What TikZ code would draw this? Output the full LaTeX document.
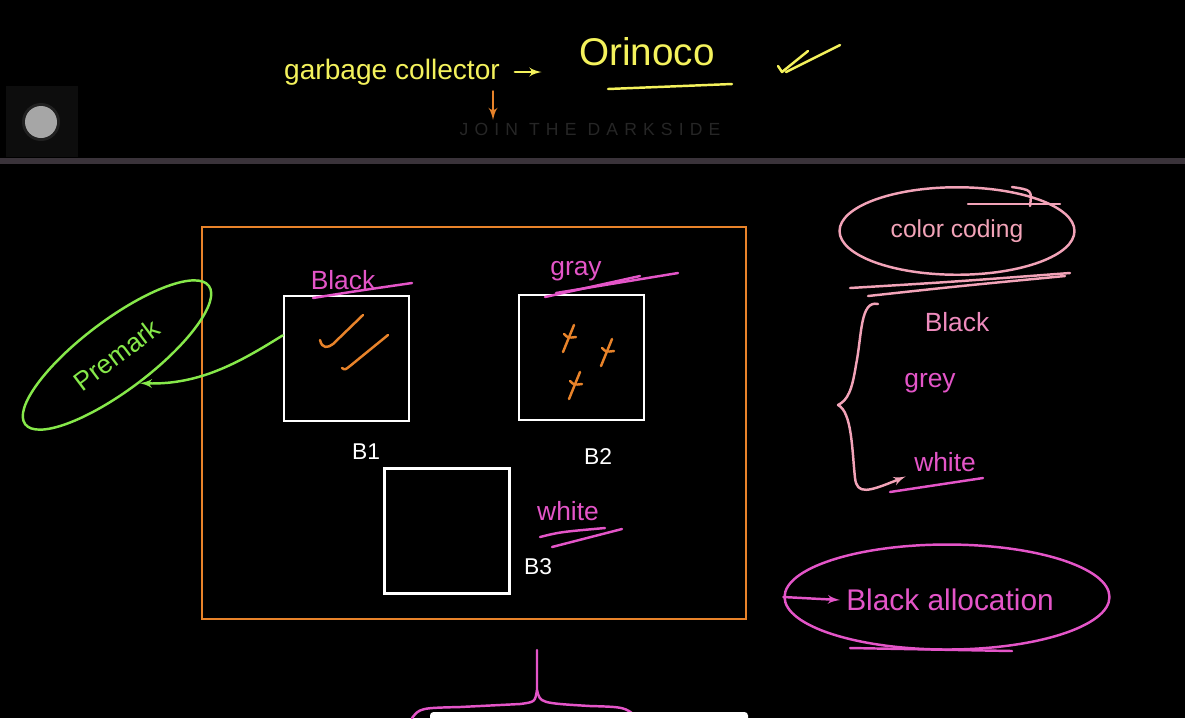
\documentclass[tikz,border=0pt]{standalone}
\usepackage{fontspec}
\setmainfont{Liberation Sans}
\usetikzlibrary{shapes,arrows}
\definecolor{chalkyellow}{HTML}{F4F25C}
\definecolor{heaporange}{HTML}{E8832A}
\definecolor{chalkpink}{HTML}{E455C8}
\definecolor{softpink}{HTML}{F2A3B8}
\definecolor{chalkgreen}{HTML}{86E84A}
\definecolor{barclr}{HTML}{3A333A}
\definecolor{markclr}{HTML}{262626}
\tikzstyle{bucket} = [rectangle, draw=white, line width=1.4pt,
    minimum size=2.5cm, inner sep=0pt]
\tikzstyle{heap} = [rectangle, draw=heaporange, line width=1.4pt,
    minimum width=10.88cm, minimum height=7.84cm]
\tikzstyle{tag} = [text=chalkpink, font=\fontsize{15}{18}\selectfont, inner sep=1pt]
\tikzstyle{boxname} = [text=white, font=\fontsize{13}{16}\selectfont, inner sep=1pt]
\tikzstyle{ink} = [line width=1.4pt, line cap=round, line join=round]
\tikzstyle{line} = [draw, -latex']

\begin{document}
\begin{tikzpicture}[x=0.02cm, y=0.02cm]
	    % Background and toolbar
	    \fill[black] (0,0) rectangle (1185,-718);
	    \useasboundingbox (0,0) rectangle (1185,-718);
	    \fill[barclr] (0,-158) rectangle (1185,-164);
	    \fill[black!95!white] (6,-86) rectangle (78,-157);
	    \fill[gray!25!black] (41,-122) circle (19);
	    \fill[gray!70] (41,-122) circle (16);
	    % Place nodes
	    \node [text=chalkyellow, font=\fontsize{16}{19}\selectfont, anchor=west] (gc) at (278,-72) {garbage collector};
	    \node [text=chalkyellow, font=\fontsize{22}{26}\selectfont] (orinoco) at (647,-52) {Orinoco};
	    \node [text=markclr, font=\fontsize{10}{12}\selectfont\addfontfeature{LetterSpace=35}] (mark) at (590,-129) {JOIN THE DARKSIDE};
	    \coordinate (gcmark) at (493,-120);
	    \node [heap] (heap) at (474,-423) {};
	    \node [bucket] (b1) at (346.5,-358.5) {};
	    \node [bucket] (b2) at (581.5,-357.5) {};
	    \node [bucket] (b3) at (447,-531) {};
	    \node [tag] (black) at (343,-280) {Black};
	    \node [tag] (gray) at (576,-271) {gray};
	    \node [tag] (white) at (568,-511) {white};
	    \node [boxname] (b1name) at (366,-452) {B1};
	    \node [boxname] (b2name) at (598,-457) {B2};
	    \node [boxname] (b3name) at (538,-567) {B3};
	    \node [ellipse, draw=chalkgreen, ink, minimum width=4.6cm, minimum height=1.4cm,
	        rotate=37, text=chalkgreen, font=\fontsize{15}{18}\selectfont] (premark) at (117,-355) {Premark};
	    \node [ellipse, draw=softpink, ink, minimum width=4.7cm, minimum height=1.75cm,
	        text=softpink, font=\fontsize{14}{17}\selectfont] (coding) at (957,-231) {color coding};
	    \node [tag, text=softpink!70!chalkpink] (ccblack) at (957,-322) {Black};
	    \node [tag] (ccgrey) at (930,-383) {grey};
	    \node [tag] (ccwhite) at (945,-462) {white};
	    \coordinate (brtop) at (878,-304);
	    \node [ellipse, draw=chalkpink, ink, minimum width=6.5cm, minimum height=2.1cm] (alloc) at (947,-597) {};
	    \node [text=chalkpink, font=\fontsize{17}{20}\selectfont] (alloctext) at (950,-600) {Black allocation};
	    \coordinate (bracetip) at (537,-650);
	    % Draw edges
	    \path [line, draw=chalkyellow, ink, shorten <=5pt, shorten >=18pt] (gc.east) -- (orinoco.west |- gc.east);
	    \path [line, draw=heaporange, ink] (gcmark |- gc.south) -- (gcmark);
	    \path [line, draw=chalkgreen, ink] (b1.160) .. controls (240,-362) and (200,-385) .. (premark.-88);
	    \path [line, draw=softpink, ink, shorten >=4pt] (brtop) .. controls (860,-300) and (862,-335) .. (856,-365)
	        .. controls (852,-390) and (848,-400) .. (838,-405)
	        .. controls (852,-412) and (852,-450) .. (855,-478)
	        .. controls (857,-495) and (868,-492) .. (ccwhite.south west);
	    \path [line, draw=chalkpink, ink] (alloc.west) -- (alloctext.west);
	    % Hand strokes
	    \draw [chalkyellow, ink] (608,-89) -- (732,-84);
	    \draw [chalkyellow, ink] (778,-66) -- (782,-72) -- (808,-51);
	    \draw [chalkyellow, ink] (786,-72) -- (840,-45);
	    \draw [chalkpink, ink] (313,-298) .. controls (350,-292) .. (412,-283);
	    \draw [chalkpink, ink] (545,-297) -- (640,-276);
	    \draw [chalkpink, ink] (556,-293) -- (678,-273);
	    \draw [chalkpink, ink] (540,-537) .. controls (560,-532) .. (605,-528);
	    \draw [chalkpink, ink] (552,-547) -- (622,-529);
	    \draw [chalkpink, ink] (890,-492) -- (983,-478);
	    \draw [softpink, ink] (850,-288) .. controls (950,-282) .. (1070,-273);
	    \draw [softpink, ink] (868,-296) .. controls (960,-286) .. (1065,-276);
	    \draw [softpink, ink] (968,-204) -- (1060,-204);
	    \draw [softpink, ink] (1030,-206) .. controls (1032,-190) .. (1012,-187);
	    \draw [chalkpink, ink] (850,-648) -- (1012,-651);
	    % Marks inside the buckets
	    \draw [heaporange, ink] (320,-340) .. controls (322,-349) and (328,-348) .. (333,-344) -- (363,-315);
	    \draw [heaporange, ink] (342,-368) .. controls (345,-370) .. (350,-366) -- (388,-335);
	    \foreach \px/\py in {568/-338, 606/-352, 574/-385} {
	        \draw [heaporange, ink] (\px-5,\py-14) -- (\px+6,\py+13);
	        \draw [heaporange, ink] (\px-4,\py+4) .. controls (\px,\py) .. (\px+8,\py+1);
	    }
	    % Bottom brace and bar
	    \draw [chalkpink, ink] (412,-718) .. controls (420,-708) .. (460,-707) -- (520,-704)
	        .. controls (535,-702) .. (bracetip |- 0,-690) -- (bracetip);
	    \draw [chalkpink, ink] (bracetip |- 0,-690) .. controls (540,-703) .. (590,-706)
	        .. controls (625,-707) .. (638,-718);
	    \fill [white, rounded corners=2pt] (430,-712) rectangle (748,-722);
\end{tikzpicture}
\end{document}
